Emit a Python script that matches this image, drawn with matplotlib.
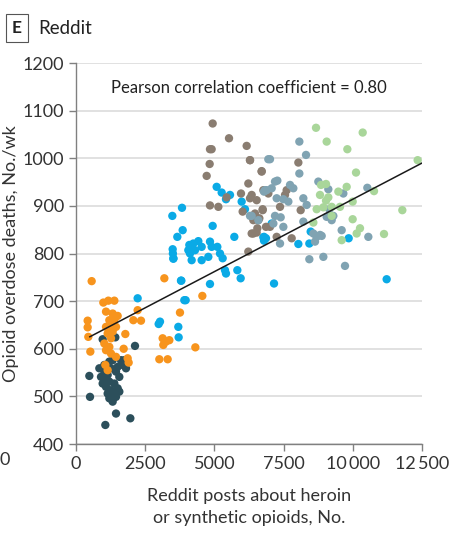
import matplotlib.pyplot as plt
import numpy as np

plt.rcParams['font.family'] = ['Lato', 'DejaVu Sans']

# Data (weekly points, one colour per year)
teal_x = [482, 506, 1060, 1445, 1963, 2131, 963, 1421, 843, 1023, 1204, 1324, 1625, 1686,
          1806, 903, 1144, 1445, 1565, 1204, 963, 1385, 1084, 1264, 1505, 1144, 1385, 1565,
          1204, 1324, 1445, 1023, 1264, 1084, 1505, 1746]
teal_y = [543, 499, 440, 464, 454, 606, 620, 624, 559, 566, 573, 576, 576, 566,
          559, 541, 545, 552, 541, 531, 527, 527, 520, 513, 517, 506, 506, 510,
          496, 489, 499, 552, 559, 534, 562, 576]

orange_x = [566, 421, 421, 445, 518, 987, 1168, 1385, 1084, 1324, 1505, 1385, 1084, 1264,
            1144, 1324, 1264, 1023, 1204, 1084, 1264, 1445, 1060, 1144, 1782, 1722, 1866,
            1902, 2227, 2071, 2348, 3191, 3756, 3130, 3251, 3371, 3154, 3010, 3311, 1445,
            1204, 4564, 4311]
orange_y = [742, 659, 645, 625, 594, 697, 701, 701, 678, 674, 669, 660, 646, 646,
            632, 636, 622, 611, 604, 597, 590, 583, 566, 555, 631, 600, 580,
            571, 681, 660, 659, 748, 676, 622, 615, 618, 608, 578, 578, 646,
            660, 711, 603]

blue_x = [2227, 2986, 3034, 3696, 3708, 3500, 3520, 3792, 3913, 3480, 3829, 3853, 3660, 3492,
          3516, 3805, 3961, 4094, 4118, 4178, 4299, 4419, 4539, 4539, 4780, 4840, 4900, 4937,
          5105, 5202, 5298, 5382, 5418, 4840, 5081, 5262, 5563, 5418, 5719, 5828, 5948, 5984,
          6104, 4058, 4238, 6791, 6863, 7153, 11222, 6768, 6792, 8032, 8429, 8477, 9850, 7069]
blue_y = [706, 652, 657, 646, 624, 800, 790, 743, 702, 879, 896, 849, 835, 809,
          789, 743, 702, 818, 800, 786, 807, 826, 814, 786, 793, 825, 814, 858,
          814, 800, 790, 765, 758, 736, 940, 928, 923, 914, 835, 765, 748, 909,
          893, 807, 821, 835, 832, 737, 746, 834, 827, 820, 821, 846, 832, 863]

taupe_x = [4937, 5527, 4840, 4900, 4828, 4720, 4840, 5142, 6165, 6285, 6706, 6225, 5960, 6346,
           6285, 5442, 6020, 6466, 6743, 6586, 6346, 6526, 6225, 6863, 8032, 6707, 6286, 6768,
           6948, 6527, 7370, 7550, 6743, 7610, 8116, 6406, 6623, 7008, 6406, 7249, 7791, 6551]
taupe_y = [1073, 1042, 1019, 1019, 988, 963, 901, 898, 1026, 996, 973, 947, 926, 923,
           916, 918, 888, 884, 893, 870, 842, 844, 804, 856, 991, 972, 996, 933,
           926, 912, 898, 923, 891, 933, 891, 870, 874, 856, 842, 835, 832, 853]

slate_x = [6947, 6791, 6887, 6346, 8068, 8309, 7008, 8068, 7189, 7273, 6828, 7069, 7249, 7490,
           7731, 7851, 7671, 8212, 8333, 8754, 9115, 9657, 10524, 9151, 9055, 9296, 9236, 8212,
           7189, 7394, 7490, 7129, 8574, 8694, 8815, 8634, 8875, 9597, 10560, 7370, 8429, 8935,
           9717, 6286, 6587]
slate_y = [998, 930, 933, 879, 1035, 1007, 998, 968, 951, 953, 933, 937, 916, 914,
           944, 937, 909, 916, 902, 951, 935, 926, 938, 893, 877, 879, 870, 867,
           879, 876, 856, 863, 842, 835, 839, 825, 837, 849, 835, 821, 788, 793,
           774, 879, 870]

green_x = [8670, 9055, 9802, 10356, 10115, 12342, 8850, 9031, 8814, 9115, 9031, 9477, 9778,
           10765, 8694, 8935, 9236, 9537, 9994, 9236, 9994, 10259, 10139, 9597, 11126, 11788,
           8574]
green_y = [1064, 1035, 1019, 1054, 970, 996, 944, 946, 923, 918, 911, 930, 940,
           931, 893, 897, 898, 898, 909, 879, 872, 853, 842, 828, 841, 891,
           865]

series = [
    (teal_x, teal_y, '#2c4f5b'),
    (orange_x, orange_y, '#f7941d'),
    (blue_x, blue_y, '#0aaae6'),
    (taupe_x, taupe_y, '#8a7d71'),
    (slate_x, slate_y, '#80a3b2'),
    (green_x, green_y, '#a9d69a'),
]

# Fitted line
fit_range = [500, 12500]
fit_intercept = 610
fit_slope = 0.0304

fig = plt.figure(figsize=(4.62, 5.34), dpi=100)
ax = fig.add_axes([0.1645, 0.1685, 0.749, 0.7135])

for xs, ys, col in series:
    ax.scatter(xs, ys, s=36, color=col, edgecolors='none', zorder=3)

fx = np.array(fit_range)
ax.plot(fx, fit_intercept + fit_slope * fx, color='#1a1a1a', lw=1.1, zorder=4)

ax.set_xlim(0, 12500)
ax.set_ylim(400, 1200)
ax.set_xticks([0, 2500, 5000, 7500, 10000, 12500])
ax.set_xticklabels(['0', '2500', '5000', '7500', '10\u2009000', '12\u2009500'])
ax.set_yticks(range(400, 1201, 100))
ax.yaxis.grid(True, color='#dcdcdc', lw=1.2, zorder=0)
ax.set_axisbelow(True)
for s in ['top', 'right']:
    ax.spines[s].set_visible(False)
for s in ['left', 'bottom']:
    ax.spines[s].set_color('#808080')
    ax.spines[s].set_linewidth(1.0)
ax.tick_params(colors='#808080', labelcolor='#333333', labelsize=13, length=5, width=1)

ax.set_xlabel('Reddit posts about heroin\nor synthetic opioids, No.', fontsize=13,
              color='#333333', labelpad=12, linespacing=1.45)
ax.set_ylabel('Opioid overdose deaths, No./wk', fontsize=13, color='#333333')
ax.yaxis.set_label_coords(-0.165, 0.5)

ax.text(0.5, 0.935, 'Pearson correlation coefficient = 0.80', transform=ax.transAxes,
        ha='center', va='center', fontsize=12, color='#222222')

# Panel label
fig.text(0.037, 0.947, 'E', fontsize=12.5, fontweight='bold', ha='center', va='center',
         color='#222222',
         bbox=dict(boxstyle='square,pad=0.35', fc='white', ec='#555555', lw=0.8))
fig.text(0.082, 0.947, 'Reddit', fontsize=13.5, ha='left', va='center', color='#222222')

# tick label from neighbouring panel at the left edge
fig.text(0.0, 0.139, '0', fontsize=13, ha='left', va='center', color='#333333')

fig.savefig('out.png', dpi=100)
